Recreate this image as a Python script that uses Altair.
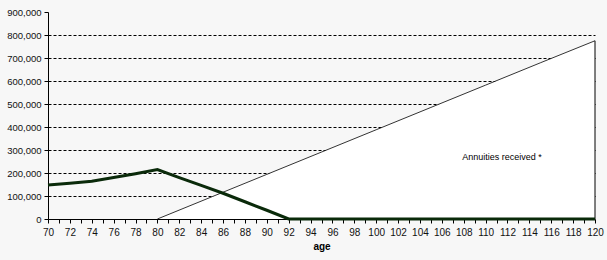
import altair as alt
import pandas as pd

# Fund balance (thick line)
fund_age = [70, 72, 74, 76, 78, 80, 82, 84, 86, 88, 90, 92, 120]
fund_val = [148000, 155000, 164000, 180000, 197000, 215000, 180000, 146000, 112000, 75000, 38000, 0, 0]

# Annuities received (area)
ann_age = [80, 85, 90, 95, 100, 105, 110, 115, 120]
ann_val = [0, 97000, 194000, 291000, 388000, 485000, 582000, 679000, 775000]

label_text = ["Annuities received *"]
label_age = [111.5]
label_val = [268000]

fund = pd.DataFrame({"age": fund_age, "value": fund_val})
ann = pd.DataFrame({"age": ann_age, "value": ann_val})
edge = pd.DataFrame({"age": [ann_age[-1]], "value": [ann_val[-1]], "zero": [0]})
lab = pd.DataFrame({"age": label_age, "value": label_val, "text": label_text})

FONT = "Liberation Sans"

xscale = alt.Scale(domain=[70, 120], nice=False, zero=False)
yscale = alt.Scale(domain=[0, 900000], nice=False)

xaxis = alt.Axis(
    title="age", values=list(range(70, 121)),
    labelExpr="datum.value % 2 == 0 ? format(datum.value, 'd') : ''",
    labelOverlap=False, labelFlush=False, grid=False,
    tickSize=4, tickColor="black", domainColor="black",
    labelFont=FONT, labelFontSize=10, labelColor="#111111", labelPadding=4,
    titleFont=FONT, titleFontSize=10, titleFontWeight="bold", titleColor="black",
    titlePadding=4,
)
yaxis = alt.Axis(
    title=None, values=list(range(0, 900001, 100000)),
    labelExpr="format(datum.value, ',')",
    labelOverlap=False,
    grid=True, gridColor="black", gridDash=[3, 2], gridWidth=1,
    gridOpacity={"condition": {"test": "datum.value >= 900000 || datum.value == 0", "value": 0}, "value": 1},
    tickSize=4, tickColor="black", domainColor="black",
    labelFont=FONT, labelFontSize=9.5, labelColor="#111111", labelPadding=3,
)

X = alt.X("age:Q", scale=xscale, axis=xaxis)
Y = alt.Y("value:Q", scale=yscale, axis=yaxis)

area = alt.Chart(ann).mark_area(
    color="white", opacity=1, fillOpacity=1,
    line={"color": "black", "strokeWidth": 0.8},
).encode(
    x=X, y=Y,
)
rule = alt.Chart(edge).mark_rule(color="black", strokeWidth=1).encode(
    x=X, y=Y, y2="zero:Q"
)
line = alt.Chart(fund).mark_line(color="#0a2a0a", strokeWidth=3).encode(
    x=X, y=Y
)
text = alt.Chart(lab).mark_text(font=FONT, fontSize=9, color="black").encode(
    x=X, y=Y, text="text:N"
)

chart = alt.layer(area, rule, line, text).properties(
    width=547, height=207,
    autosize=alt.AutoSizeParams(type="none"),
    padding={"left": 48, "top": 12, "right": 12, "bottom": 41},
    background="#f7f7f7",
).configure_view(stroke=None)

chart.save("out.html", embed_options={"renderer": "svg", "actions": False})
